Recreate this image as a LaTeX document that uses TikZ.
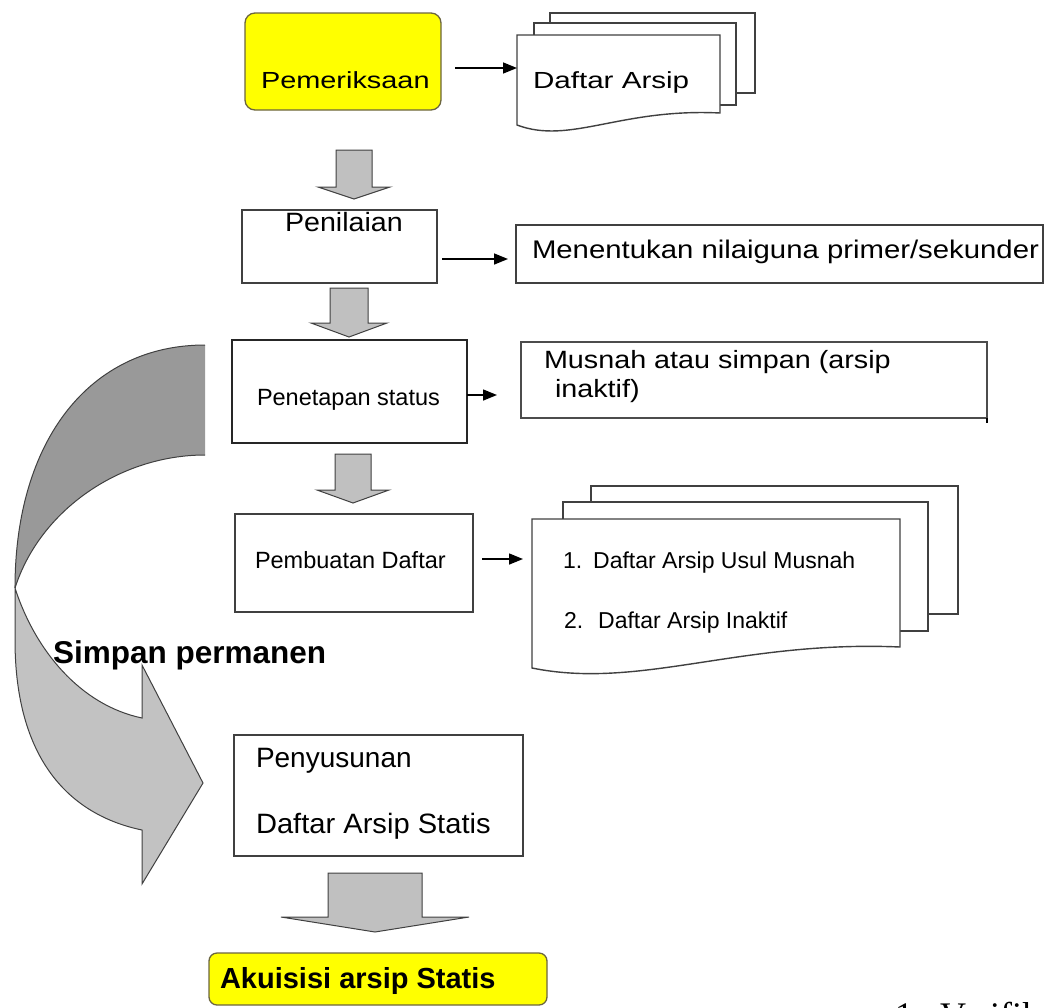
\documentclass[tikz,border=0pt]{standalone}
\usepackage{fontspec}
\setmainfont{Liberation Sans}
\newfontfamily\timesf{Liberation Serif}
\usepackage{graphicx}
\usetikzlibrary{arrows.meta}
\definecolor{yel}{HTML}{FFFF00}
\definecolor{yelborder}{HTML}{6B6540}
\definecolor{arrgray}{HTML}{C0C0C0}
\definecolor{darkband}{HTML}{999999}
\definecolor{lightband}{HTML}{C2C2C2}
\definecolor{edgec}{HTML}{404040}
\newcommand{\fs}[1]{\fontsize{#1}{#1}\selectfont}
\newcommand{\xs}[2]{\scalebox{#1}[1]{#2}}
\newcommand{\blockdown}[6]{\draw[blk] (#1-#3,#2) -- (#1+#3,#2) -- (#1+#3,#4) -- (#1+#5,#4) -- (#1,#6) -- (#1-#5,#4) -- (#1-#3,#4) -- cycle;}
\begin{document}
\begin{tikzpicture}[x=1pt,y=-1pt,
  box/.style={draw=edgec, line width=1.3pt, fill=white, inner sep=0pt, outer sep=0pt, anchor=north west},
  ybox/.style={box, fill=yel, draw=yelborder, rounded corners=10pt},
  txt/.style={inner sep=0pt, outer sep=0pt, anchor=base west},
  conn/.style={line width=1.5pt, -{Triangle[length=14pt,width=11pt]}},
  blk/.style={fill=arrgray, draw=edgec, line width=1pt, line join=miter},
  sheet/.style={fill=white, draw=edgec, line width=1.4pt},
  band/.style={draw=edgec, line width=1pt}
]
\useasboundingbox (0,0) rectangle (1046,1007);

% curved arrow "Simpan permanen"
\fill[darkband] (205,345) .. controls (90,345) and (15,440) .. (15,588)
   .. controls (40,510) and (120,455) .. (205,455) -- cycle;
\draw[band] (205,345) .. controls (90,345) and (15,440) .. (15,588);
\draw[band] (15,588) .. controls (40,510) and (120,455) .. (205,455);
\filldraw[fill=lightband, band] (15,588) -- (15,640) .. controls (15,760) and (70,815) .. (142,830)
   -- (142,884) -- (203,783) -- (142,665) -- (142,718)
   .. controls (80,705) and (35,650) .. (15,588) -- cycle;

% document stacks
\draw[sheet] (550,13) rectangle (755,93);
\draw[sheet] (534,23) rectangle (736,105);
\draw[sheet] (517,35) -- (720,35) -- (720,113) .. controls (620,108) and (570,145) .. (517,125) -- cycle;
\coordinate (e1) at (517,68);

\draw[sheet] (591,486) rectangle (958,614);
\draw[sheet] (563,502) rectangle (928,631);
\draw[sheet] (532,519) -- (900,519) -- (900,647) .. controls (740,640) and (640,690) .. (532,668) -- cycle;
\coordinate (e4) at (532,559);

% boxes
\node[ybox, minimum width=196pt, minimum height=97pt] (pem) at (245,13) {};
\node[box, minimum width=195pt, minimum height=73pt] (pen) at (242,210) {};
\node[box, minimum width=527pt, minimum height=58pt] (men) at (516,225) {};
\node[box, line width=2pt, draw=black!85, minimum width=235pt, minimum height=103pt] (pst) at (232,340) {};
\node[box, line width=2.2pt, draw=black!70, minimum width=466pt, minimum height=76pt] (mus) at (521,342) {};
\draw[line width=2pt] (mus.south east) -- ++(0,5);
\node[box, minimum width=238pt, minimum height=98pt] (pbd) at (235,514) {};
\node[box, minimum width=289pt, minimum height=121pt] (pny) at (234,735) {};
\node[ybox, rounded corners=8pt, minimum width=338pt, minimum height=52pt] (aku) at (209,953) {};

% block arrows
\blockdown{354}{150}{18}{187}{36}{199}
\blockdown{349}{288}{19}{323}{38}{337}
\blockdown{353}{454}{18}{490}{36}{503}
\blockdown{375}{873}{47}{917}{94}{932}

% connectors
\draw[conn, shorten <=14pt] (pem.east |- e1) -- (e1);
\coordinate (y2) at (0,259);
\draw[conn, shorten <=5pt, shorten >=8pt] (pen.east |- y2) -- (men.west |- y2);
\coordinate (y3) at (0,395);
\draw[conn, shorten >=24pt] (pst.east |- y3) -- (mus.west |- y3);
\draw[conn, shorten <=9pt, shorten >=9pt] (pbd.east |- e4) -- (e4);

% texts
\node[txt, font=\fs{23.3}] (tPem) at (261,88) {\xs{1.24}{Pemeriksaan}};
\node[txt, font=\fs{23.3}] (tDA) at (533,88) {\xs{1.27}{Daftar Arsip}};
\node[txt, font=\fs{26.5}] (tPen) at (285,231) {\xs{1.08}{Penilaian}};
\node[txt, font=\fs{25.5}] (tMen) at (532,258) {\xs{1.15}{Menentukan nilaiguna primer/sekunder}};
\node[txt, font=\fs{23.5}] (tPst) at (257,405) {Penetapan status};
\node[txt, font=\fs{25}] (tMus1) at (544,368) {\xs{1.15}{Musnah atau simpan (arsip}};
\node[txt, font=\fs{25}] (tMus2) at (555,397) {\xs{1.15}{inaktif)}};
\node[txt, font=\fs{23.5}] (tPbd) at (255,568) {Pembuatan Daftar};
\node[txt, font=\fs{23}] (tL1) at (563,568) {1.\hspace{11pt}Daftar Arsip Usul Musnah};
\node[txt, font=\fs{23}] (tL2) at (564,628) {2.\hspace{15pt}Daftar Arsip Inaktif};
\node[txt, font=\bfseries\fs{31.5}] (tSim) at (53,663) {Simpan permanen};
\node[txt, font=\fs{28}] (tPny1) at (256,767) {Penyusunan};
\node[txt, font=\fs{28}] (tPny2) at (256,833) {\xs{1.04}{Daftar Arsip Statis}};
\node[txt, font=\bfseries\fs{29}] (tAku) at (220,988) {Akuisisi arsip Statis};
\node[txt, font=\timesf\fs{36}] (tVer) at (895,1027) {1.\hspace{18pt}Verifikasi};
\end{tikzpicture}
\end{document}
